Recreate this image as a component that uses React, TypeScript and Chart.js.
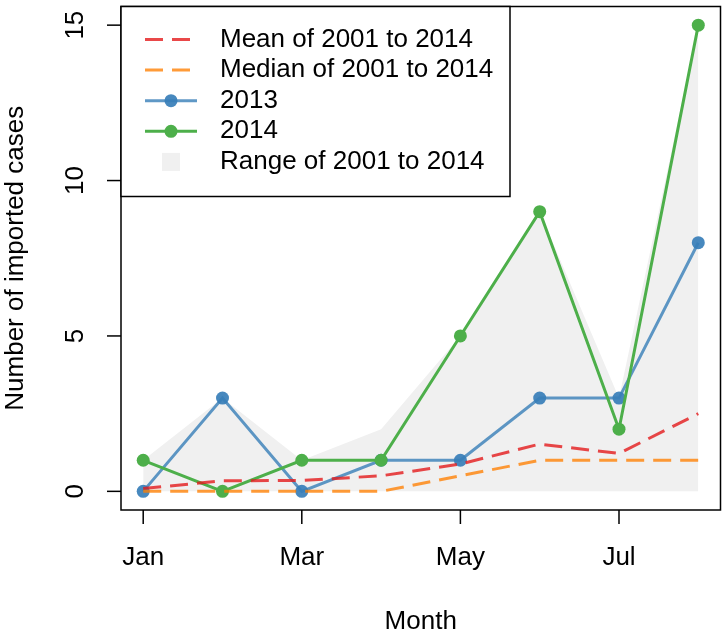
import React, { useEffect, useRef } from 'react';
import { Chart, registerables } from 'chart.js';

Chart.register(...registerables);

// ---- data ----
const months = ['Jan', 'Feb', 'Mar', 'Apr', 'May', 'Jun', 'Jul', 'Aug'];
const monthNumbers = [1, 2, 3, 4, 5, 6, 7, 8];
const cases2013 = [0, 3, 0, 1, 1, 3, 3, 8];
const cases2014 = [1, 0, 1, 1, 5, 9, 2, 15];
const meanCases = [0.09, 0.34, 0.35, 0.5, 0.88, 1.52, 1.22, 2.5];
const medianCases = [0, 0, 0, 0, 0.5, 1, 1, 1];
const rangeMin = [0, 0, 0, 0, 0, 0, 0, 0];
const rangeMax = [1, 3, 1, 2, 5, 9, 3, 15];
const xTickValues = [1, 3, 5, 7];
const yTickValues = [0, 5, 10, 15];
const legendLabels = [
  'Mean of 2001 to 2014',
  'Median of 2001 to 2014',
  '2013',
  '2014',
  'Range of 2001 to 2014',
];

const FONT = '"Liberation Sans", Arial, Helvetica, sans-serif';
const RED = 'rgba(228,26,28,0.8)';
const ORANGE = 'rgba(255,127,0,0.78)';
const BLUE_LINE = 'rgba(55,126,184,0.8)';
const BLUE_PT = 'rgba(55,126,184,0.92)';
const GREEN_LINE = 'rgba(77,175,74,1)';
const GREEN_PT = 'rgba(77,175,74,1)';
const GREY = '#f0f0f0';
const DASH = [18, 9];

const pts = (vals: number[]) => vals.map((v, i) => ({ x: monthNumbers[i], y: v }));

const rPlot = {
  id: 'rPlot',
  afterDatasetsDraw(chart: any) {
    const { ctx, chartArea: a, scales } = chart;
    const x = scales.x;
    const y = scales.y;
    ctx.save();
    ctx.strokeStyle = '#000';
    ctx.fillStyle = '#000';
    ctx.lineWidth = 1.5;
    // box
    ctx.strokeRect(a.left, a.top, a.right - a.left, a.bottom - a.top);
    ctx.font = `26px ${FONT}`;
    // x ticks and labels
    ctx.textAlign = 'center';
    ctx.textBaseline = 'middle';
    xTickValues.forEach((v) => {
      const px = x.getPixelForValue(v);
      ctx.beginPath();
      ctx.moveTo(px, a.bottom);
      ctx.lineTo(px, a.bottom + 14);
      ctx.stroke();
      ctx.fillText(months[v - 1], px, a.bottom + 48);
    });
    ctx.fillText('Month', (a.left + a.right) / 2, a.bottom + 112);
    // y ticks and labels
    yTickValues.forEach((v) => {
      const py = y.getPixelForValue(v);
      ctx.beginPath();
      ctx.moveTo(a.left, py);
      ctx.lineTo(a.left - 14, py);
      ctx.stroke();
      ctx.save();
      ctx.translate(a.left - 45, py);
      ctx.rotate(-Math.PI / 2);
      ctx.fillText(String(v), 0, 0);
      ctx.restore();
    });
    ctx.save();
    ctx.translate(a.left - 105, (a.top + a.bottom) / 2);
    ctx.rotate(-Math.PI / 2);
    ctx.fillText('Number of imported cases', 0, 0);
    ctx.restore();

    // legend
    const lx = a.left;
    const ly = a.top;
    const lw = 389;
    const lh = 190;
    ctx.fillStyle = '#fff';
    ctx.fillRect(lx, ly, lw, lh);
    ctx.strokeStyle = '#000';
    ctx.lineWidth = 1.5;
    ctx.strokeRect(lx, ly, lw, lh);
    const sx0 = lx + 24;
    const sx1 = lx + 76;
    const sxc = (sx0 + sx1) / 2;
    legendLabels.forEach((lab, i) => {
      const ry = ly + 33 + i * 30.6;
      ctx.lineCap = 'butt';
      if (i === 0 || i === 1) {
        ctx.strokeStyle = i === 0 ? RED : ORANGE;
        ctx.lineWidth = 3;
        ctx.setLineDash(DASH);
        ctx.beginPath();
        ctx.moveTo(sx0, ry);
        ctx.lineTo(sx1, ry);
        ctx.stroke();
        ctx.setLineDash([]);
      } else if (i === 2 || i === 3) {
        ctx.strokeStyle = i === 2 ? BLUE_LINE : GREEN_LINE;
        ctx.lineWidth = 3;
        ctx.beginPath();
        ctx.moveTo(sx0, ry);
        ctx.lineTo(sx1, ry);
        ctx.stroke();
        ctx.fillStyle = i === 2 ? BLUE_PT : GREEN_PT;
        ctx.beginPath();
        ctx.arc(sxc, ry, 6.5, 0, Math.PI * 2);
        ctx.fill();
      } else {
        ctx.fillStyle = GREY;
        ctx.fillRect(sxc - 9, ry - 9, 18, 18);
      }
      ctx.fillStyle = '#000';
      ctx.textAlign = 'left';
      ctx.textBaseline = 'middle';
      ctx.fillText(lab, lx + 99, ry);
    });
    ctx.restore();
  },
};

export default function App() {
  const canvasRef = useRef<HTMLCanvasElement | null>(null);

  useEffect(() => {
    document.body.style.margin = '0';
    const canvas = canvasRef.current;
    if (!canvas) return;
    const chart = new Chart(canvas, {
      type: 'line',
      data: {
        datasets: [
          {
            label: 'rangeMin',
            data: pts(rangeMin),
            borderWidth: 0,
            borderColor: 'rgba(0,0,0,0)',
            pointRadius: 0,
            fill: false,
            order: 7,
          },
          {
            label: 'Range of 2001 to 2014',
            data: pts(rangeMax),
            borderWidth: 0,
            borderColor: 'rgba(0,0,0,0)',
            backgroundColor: GREY,
            pointRadius: 0,
            fill: '-1',
            order: 6,
          },
          {
            label: '2013',
            data: pts(cases2013),
            borderColor: BLUE_LINE,
            borderWidth: 3,
            pointRadius: 6.5,
            pointBorderWidth: 0,
            pointBackgroundColor: BLUE_PT,
            pointBorderColor: BLUE_PT,
            fill: false,
            order: 5,
          },
          {
            label: '2014',
            data: pts(cases2014),
            borderColor: GREEN_LINE,
            borderWidth: 3,
            pointRadius: 6.5,
            pointBorderWidth: 0,
            pointBackgroundColor: GREEN_PT,
            pointBorderColor: GREEN_PT,
            fill: false,
            order: 4,
          },
          {
            label: 'Mean of 2001 to 2014',
            data: pts(meanCases),
            borderColor: RED,
            borderWidth: 3,
            borderDash: DASH,
            pointRadius: 0,
            fill: false,
            order: 3,
          },
          {
            label: 'Median of 2001 to 2014',
            data: pts(medianCases),
            borderColor: ORANGE,
            borderWidth: 3,
            borderDash: DASH,
            pointRadius: 0,
            fill: false,
            order: 2,
          },
        ],
      },
      options: {
        animation: false,
        responsive: false,
        devicePixelRatio: 1,
        layout: { padding: { left: 121, right: 3, top: 2, bottom: 123 } },
        elements: { line: { tension: 0 } },
        plugins: { legend: { display: false }, tooltip: { enabled: false } },
        scales: {
          x: { type: 'linear', min: 0.72, max: 8.28, display: false },
          y: { type: 'linear', min: -0.6, max: 15.6, display: false },
        },
      },
      plugins: [rPlot],
    });
    return () => chart.destroy();
  }, []);

  return (
    <div style={{ width: 727, height: 633, background: '#fff' }}>
      <canvas ref={canvasRef} width={727} height={633} style={{ display: 'block' }} />
    </div>
  );
}
